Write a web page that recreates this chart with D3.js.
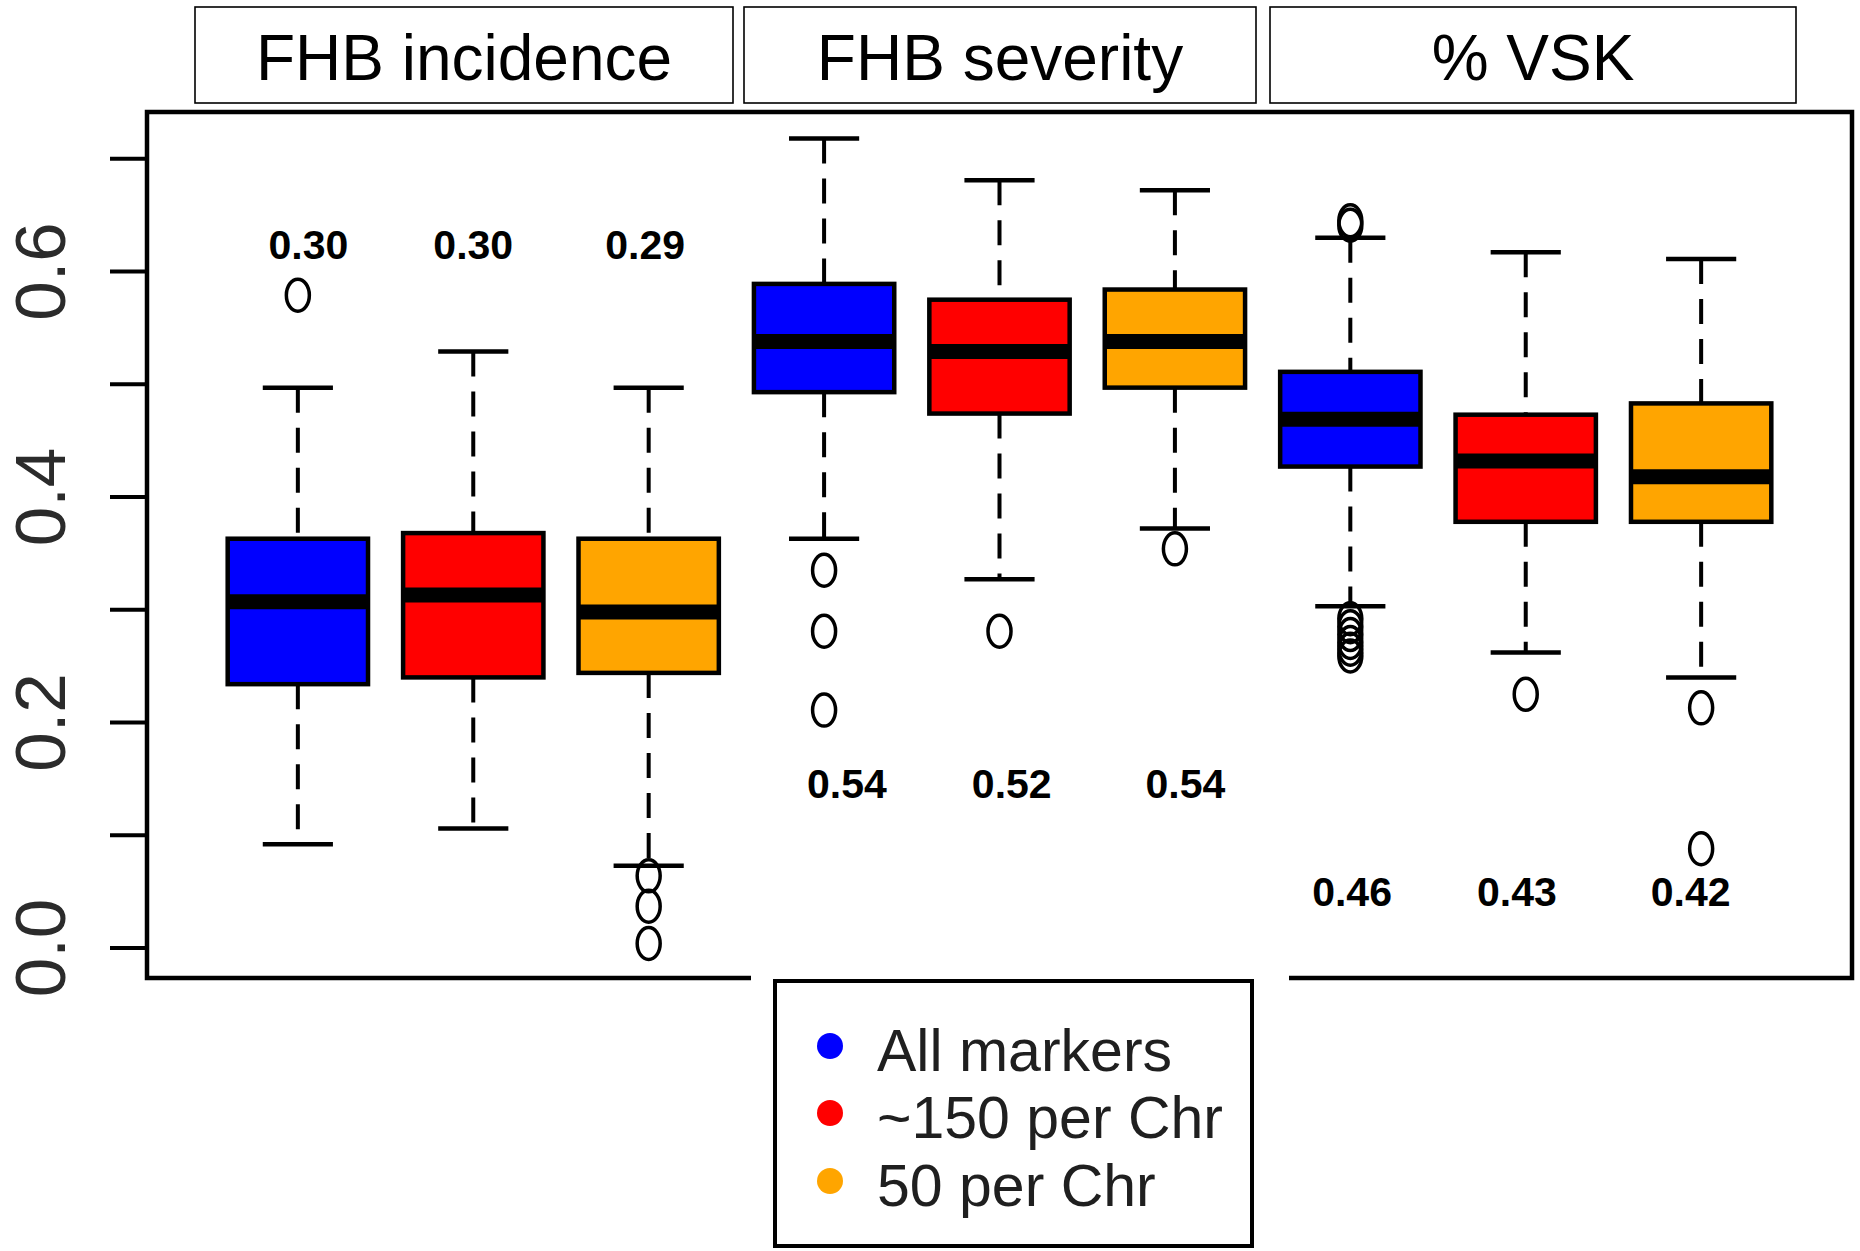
<!DOCTYPE html>
<html>
<head>
<meta charset="utf-8">
<script src="https://cdn.jsdelivr.net/npm/d3@7"></script>
<style>
  body { margin: 0; background: #fff; }
  text { font-family: "Liberation Sans", Arial, sans-serif; }
</style>
</head>
<body>
<svg id="chart" width="1860" height="1251"></svg>
<script>
/*
/   Data
*/

const traits = ["FHB incidence", "FHB severity", "% VSK"];
const markerSets = ["All markers", "~150 per Chr", "50 per Chr"];
const setColors = ["#0000ff", "#ff0000", "#ffa500"];

// one entry per box: incidence (3), severity (3), VSK (3)
const lowerWhisker = [0.092, 0.106, 0.073, 0.363, 0.327, 0.372, 0.303, 0.262, 0.240];
const lowerQuartile = [0.234, 0.240, 0.244, 0.493, 0.474, 0.497, 0.427, 0.378, 0.378];
const medians = [0.307, 0.313, 0.298, 0.538, 0.529, 0.538, 0.469, 0.432, 0.418];
const upperQuartile = [0.363, 0.368, 0.363, 0.589, 0.575, 0.584, 0.511, 0.473, 0.483];
const upperWhisker = [0.497, 0.529, 0.497, 0.718, 0.681, 0.672, 0.630, 0.617, 0.611];
const outliers = [
    [0.579],
    [],
    [0.064, 0.037, 0.004],
    [0.335, 0.281, 0.211],
    [0.281],
    [0.354],
    [0.645, 0.641, 0.292, 0.285, 0.278, 0.271, 0.265, 0.259],
    [0.225],
    [0.213, 0.088]
];

const accuracyLabels = ["0.30", "0.30", "0.29", "0.54", "0.52", "0.54", "0.46", "0.43", "0.42"];
const labelX = [1.06, 2.0, 2.98, 4.13, 5.07, 6.06, 7.01, 7.95, 8.94];
const labelY = [0.624, 0.624, 0.624, 0.146, 0.146, 0.146, 0.050, 0.050, 0.050];

const yTicks = [0, 0.1, 0.2, 0.3, 0.4, 0.5, 0.6, 0.7];
const yTickLabels = ["0.0", "0.2", "0.4", "0.6"];

/*
/   Setup
*/

const svg = d3.select("#chart");

const plotLeft = 147;
const plotRight = 1852;
const plotTop = 112;
const plotBottom = 978;

const x = d3.scaleLinear().domain([0.14, 9.86]).range([plotLeft, plotRight]);
const y = d3.scaleLinear().domain([0, 0.6]).range([948, 271.5]);

const boxWidth = x(0.8) - x(0);
const capWidth = boxWidth / 2;

/*
/   Strip headers
*/

const headerBoxes = [[195, 733], [744, 1256], [1270, 1796]];

const headers = svg.append("g");
headers.selectAll("rect")
    .data(traits)
    .join("rect")
    .attr("x", (d, i) => headerBoxes[i][0])
    .attr("y", 7)
    .attr("width", (d, i) => headerBoxes[i][1] - headerBoxes[i][0])
    .attr("height", 96)
    .attr("fill", "white")
    .attr("stroke", "black")
    .attr("stroke-width", 1.6);

headers.selectAll("text")
    .data(traits)
    .join("text")
    .attr("x", (d, i) => (headerBoxes[i][0] + headerBoxes[i][1]) / 2)
    .attr("y", 80)
    .attr("text-anchor", "middle")
    .attr("font-size", 64)
    .text(d => d);

/*
/   Axis
*/

const axis = svg.append("g");

axis.selectAll("line")
    .data(yTicks)
    .join("line")
    .attr("x1", 110)
    .attr("x2", plotLeft)
    .attr("y1", d => y(d))
    .attr("y2", d => y(d))
    .attr("stroke", "black")
    .attr("stroke-width", 4);

axis.selectAll("text")
    .data(yTickLabels)
    .join("text")
    .attr("transform", d => `translate(65,${y(+d)}) rotate(-90)`)
    .attr("text-anchor", "middle")
    .attr("font-size", 71)
    .attr("fill", "#2b2b2b")
    .text(d => d);

/*
/   Boxes
*/

const boxData = medians.map((m, i) => ({
    pos: i + 1,
    color: setColors[i % 3],
    lw: lowerWhisker[i],
    q1: lowerQuartile[i],
    med: m,
    q3: upperQuartile[i],
    uw: upperWhisker[i],
    out: outliers[i]
}));

const boxes = svg.append("g")
    .selectAll("g")
    .data(boxData)
    .join("g");

// whiskers, dashed, drawn from the cap toward the box on top and from the box down below
boxes.append("line")
    .attr("x1", d => x(d.pos)).attr("x2", d => x(d.pos))
    .attr("y1", d => y(d.uw)).attr("y2", d => y(d.q3))
    .attr("stroke", "black").attr("stroke-width", 4)
    .attr("stroke-dasharray", "25,15");

boxes.append("line")
    .attr("x1", d => x(d.pos)).attr("x2", d => x(d.pos))
    .attr("y1", d => y(d.q1)).attr("y2", d => y(d.lw))
    .attr("stroke", "black").attr("stroke-width", 4)
    .attr("stroke-dasharray", "25,15");

// caps
boxes.selectAll("line.cap")
    .data(d => [d.uw, d.lw].map(v => ({ pos: d.pos, v: v })))
    .join("line")
    .attr("class", "cap")
    .attr("x1", d => x(d.pos) - capWidth / 2)
    .attr("x2", d => x(d.pos) + capWidth / 2)
    .attr("y1", d => y(d.v))
    .attr("y2", d => y(d.v))
    .attr("stroke", "black")
    .attr("stroke-width", 4.5);

boxes.append("rect")
    .attr("x", d => x(d.pos) - boxWidth / 2)
    .attr("y", d => y(d.q3))
    .attr("width", boxWidth)
    .attr("height", d => y(d.q1) - y(d.q3))
    .attr("fill", d => d.color)
    .attr("stroke", "black")
    .attr("stroke-width", 4.5);

boxes.append("line")
    .attr("x1", d => x(d.pos) - boxWidth / 2)
    .attr("x2", d => x(d.pos) + boxWidth / 2)
    .attr("y1", d => y(d.med))
    .attr("y2", d => y(d.med))
    .attr("stroke", "black")
    .attr("stroke-width", 15);

boxes.selectAll("ellipse")
    .data(d => d.out.map(v => ({ pos: d.pos, v: v })))
    .join("ellipse")
    .attr("cx", d => x(d.pos))
    .attr("cy", d => y(d.v))
    .attr("rx", 11.5)
    .attr("ry", 16)
    .attr("fill", "none")
    .attr("stroke", "black")
    .attr("stroke-width", 3.5);

/*
/   Accuracy labels
*/

svg.append("g")
    .selectAll("text")
    .data(accuracyLabels)
    .join("text")
    .attr("x", (d, i) => x(labelX[i]))
    .attr("y", (d, i) => y(labelY[i]))
    .attr("dy", "0.35em")
    .attr("text-anchor", "middle")
    .attr("font-size", 41)
    .attr("font-weight", "bold")
    .text(d => d);

/*
/   Plot frame
*/

svg.append("rect")
    .attr("x", plotLeft)
    .attr("y", plotTop)
    .attr("width", plotRight - plotLeft)
    .attr("height", plotBottom - plotTop)
    .attr("fill", "none")
    .attr("stroke", "black")
    .attr("stroke-width", 4.5);

/*
/   Legend
*/

const legend = svg.append("g");

legend.append("rect")
    .attr("x", 751).attr("y", 968)
    .attr("width", 538).attr("height", 283)
    .attr("fill", "white");

legend.append("rect")
    .attr("x", 775).attr("y", 981)
    .attr("width", 477).attr("height", 265)
    .attr("fill", "white")
    .attr("stroke", "black")
    .attr("stroke-width", 4);

const legendRows = [1046, 1113, 1181];

legend.selectAll("circle")
    .data(markerSets)
    .join("circle")
    .attr("cx", 830)
    .attr("cy", (d, i) => legendRows[i])
    .attr("r", 13)
    .attr("fill", (d, i) => setColors[i]);

legend.selectAll("text")
    .data(markerSets)
    .join("text")
    .attr("x", 877)
    .attr("y", (d, i) => legendRows[i] + 25)
    .attr("font-size", 59)
    .attr("fill", "#1f1f1f")
    .text(d => d);
</script>
</body>
</html>
